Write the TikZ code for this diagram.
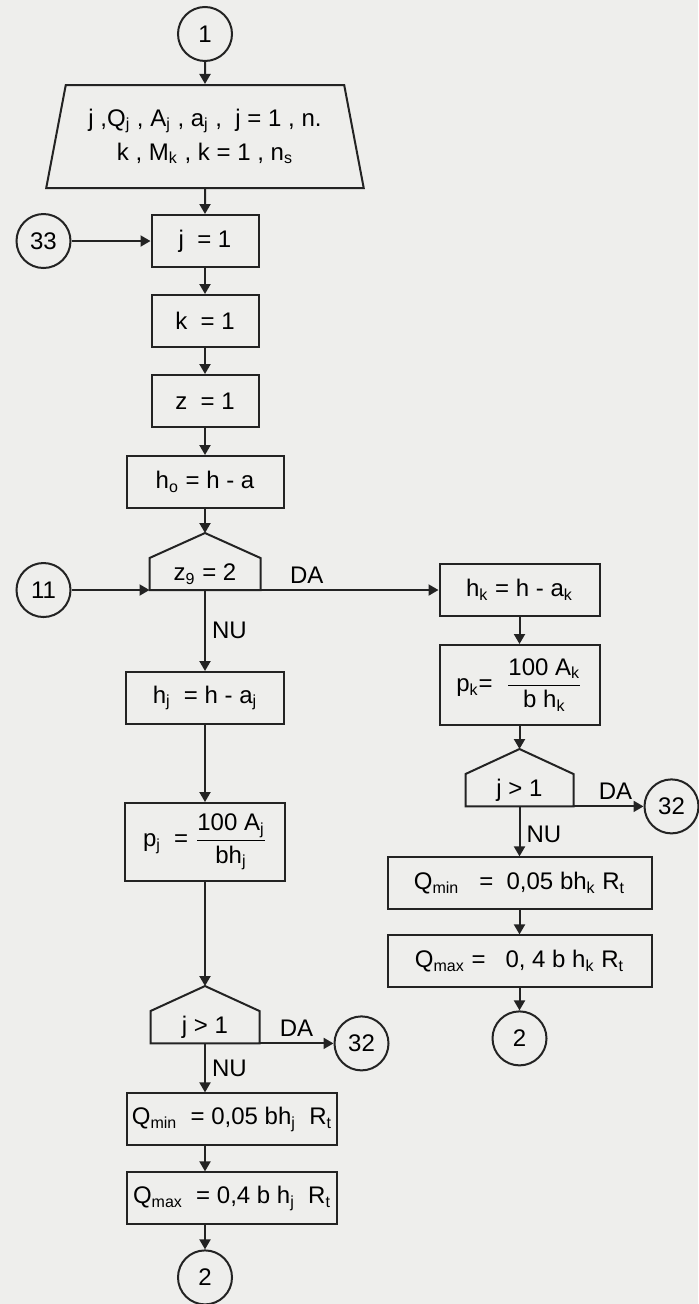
\documentclass[tikz,border=0pt]{standalone}
\usepackage{amsmath}
\usepackage{fontspec}
\setmainfont{Liberation Sans}
\usepackage{tikz}
\usetikzlibrary{positioning,arrows.meta,calc,shapes.geometric}
\definecolor{ink}{RGB}{35,35,35}
\definecolor{paper}{RGB}{238,238,236}
\newcommand{\ix}[1]{\textsubscript{#1}}
% decision box: rectangle part is the node, the roof is drawn on top
\newcommand{\roof}[1]{%
  \coordinate (#1-top) at ([yshift=12.5pt]#1.north);
  \draw[ink,line width=1pt] (#1.south west) -- (#1.north west) -- (#1-top)
    -- (#1.north east) -- (#1.south east) -- cycle;}
\tikzset{
  blk/.style={draw=ink,line width=1pt,align=center,font=\fontsize{12}{17}\selectfont,minimum height=26pt,inner sep=2pt},
  conn/.style={blk,circle,minimum size=27pt,inner sep=0pt},
  io/.style={blk,trapezium,trapezium left angle=75,trapezium right angle=75,trapezium stretches=true,minimum width=159pt,minimum height=51.5pt},
  test/.style={blk,draw=none,minimum width=54pt,minimum height=15pt},
  lbl/.style={font=\fontsize{12}{14}\selectfont,inner sep=3pt},
  ar/.style={-{Triangle[length=5pt,width=5.5pt]},line width=1pt,draw=ink},
}
\begin{document}
\begin{tikzpicture}[x=0.5pt,y=-0.5pt]
  \path[use as bounding box,fill=paper] (0,0) rectangle (698,1304);
  % left column
  \node[conn] (c1) at (205,34) {1};
  \node[io,below=11pt of c1] (inp) {j ,Q\ix{j} , A\ix{j} , a\ix{j} ,\ \ j = 1 , n.\\k , M\ix{k} , k = 1 , n\ix{s}};
  \node[blk,minimum width=53.5pt,below=12.5pt of inp] (j1) {j\ \ = 1};
  \node[conn,left=39.5pt of j1] (c33) {33};
  \node[blk,minimum width=53.5pt,below=13pt of j1] (k1) {k\ \ = 1};
  \node[blk,minimum width=53.5pt,below=13pt of k1] (z1) {z\ \ = 1};
  \node[blk,minimum width=78.5pt,below=13.5pt of z1] (ho) {h\ix{o} = h - a};
  \node[test,minimum width=54.5pt,below=24.5pt of ho] (dz) {z\ix{9} = 2};
  \roof{dz}
  \node[conn,left=39pt of dz.south west] (c11) {11};
  \node[blk,minimum width=79pt,below=40.5pt of dz] (hj) {h\ix{j}\ \ = h - a\ix{j}};
  \node[blk,minimum width=80pt,minimum height=39pt,below=38.5pt of hj] (pj)
    {p\ix{j}\ \ = $\dfrac{\text{100 A\ix{j}}}{\text{bh\ix{j}}}$};
  \node[test,minimum width=53.5pt,below=64.5pt of pj] (dj) {j > 1};
  \roof{dj}
  \node[conn,right=37pt of dj.south east] (c32a) {32};
  \node[blk,minimum width=105pt,below=24.5pt of dj,xshift=13.5pt] (qmin) {Q\ix{min}\ \ = 0,05 bh\ix{j}\ \ R\ix{t}};
  \node[blk,minimum width=105pt,below=12.5pt of qmin] (qmax) {Q\ix{max}\ \ = 0,4 b h\ix{j}\ \ R\ix{t}};
  \node[conn,below=12pt of qmax,xshift=-13.5pt] (c2) {2};
  % right column
  \node[blk,minimum width=80pt,right=89pt of dz.south east] (hk) {h\ix{k} = h - a\ix{k}};
  \node[blk,minimum width=80pt,minimum height=40pt,below=13.5pt of hk] (pk)
    {p\ix{k}= \ $\dfrac{\text{100 A\ix{k}}}{\text{b h\ix{k}}}$};
  \node[test,minimum width=53pt,below=24pt of pk] (dk) {j > 1};
  \roof{dk}
  \node[conn,right=35pt of dk.south east] (c32b) {32};
  \node[blk,minimum width=132pt,below=25pt of dk] (qmink) {Q\ix{min}\ \ \ = \ 0,05 bh\ix{k} R\ix{t}};
  \node[blk,minimum width=132pt,below=12pt of qmink] (qmaxk) {Q\ix{max} = \ \ 0, 4 b h\ix{k} R\ix{t}};
  \node[conn,below=11pt of qmaxk] (c2k) {2};
  % connectors
  \draw[ar] (c1) -- (inp);
  \draw[ar] (inp) -- (j1);
  \draw[ar] (c33) -- (j1);
  \draw[ar] (j1) -- (k1);
  \draw[ar] (k1) -- (z1);
  \draw[ar] (z1) -- (ho);
  \draw[ar] (ho) -- (dz-top);
  \draw[ar] (c11) -- (dz.south west);
  \draw[ar] (dz.south east) -- node[lbl,above,pos=0.26] {DA} (hk);
  \draw[ar] (dz.south) -- node[lbl,right] {NU} (hj);
  \draw[ar] (hj) -- (pj);
  \draw[ar] (pj) -- (dj-top);
  \draw[ar] (dj.south east) -- node[lbl,above] {DA} (c32a);
  \draw[ar] (dj.south) -- node[lbl,right] {NU} (dj.south |- qmin.north);
  \draw[ar] (dj.south |- qmin.south) -- (dj.south |- qmax.north);
  \draw[ar] (dj.south |- qmax.south) -- (c2);
  \draw[ar] (hk) -- (pk);
  \draw[ar] (pk) -- (dk-top);
  \draw[ar] (dk.south east) -- node[lbl,above,pos=0.6] {DA} (c32b);
  \draw[ar] (dk.south) -- node[lbl,right,pos=0.55] {NU} (qmink);
  \draw[ar] (qmink) -- (qmaxk);
  \draw[ar] (qmaxk) -- (c2k);
\end{tikzpicture}
\end{document}
